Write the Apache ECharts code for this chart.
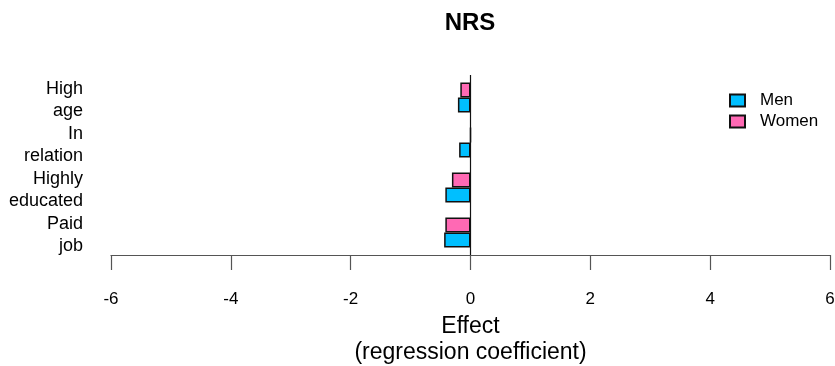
<!DOCTYPE html>
<html>
<head>
<meta charset="utf-8">
<script src="https://cdn.jsdelivr.net/npm/echarts@6/dist/echarts.min.js"></script>
<style>
  html, body { margin: 0; padding: 0; background: #fff; }
  #main { width: 835px; height: 366px; }
</style>
</head>
<body>
<div id="main"></div>
<script>
// categories top to bottom
const categories = ['High\nage', 'In\nrelation', 'Highly\neducated', 'Paid\njob']
const menValues = [-0.21, -0.19, -0.42, -0.44]
const womenValues = [-0.17, 0, -0.31, -0.42]
const xTicks = { min: -6, max: 6, interval: 2 }

const FONT = "'Liberation Sans', Arial, sans-serif"
const myChart = echarts.init(document.getElementById('main'))

const option = {
  backgroundColor: '#fff',
  animation: false,
  textStyle: { fontFamily: FONT, color: '#000' },
  title: {
    text: 'NRS',
    left: 470,
    top: 11,
    padding: 0,
    textAlign: 'center',
    textStyle: { fontFamily: FONT, fontSize: 24, fontWeight: 'bold', color: '#000' },
  },
  legend: {
    data: ['Men', 'Women'],
    orient: 'vertical',
    left: 729,
    top: 92,
    padding: 0,
    icon: 'rect',
    itemWidth: 15,
    itemHeight: 12,
    itemGap: 4,
    textStyle: { fontFamily: FONT, fontSize: 17, color: '#000', lineHeight: 17, padding: [0, 0, 0, 10] },
  },
  grid: {
    left: 111,
    right: 5,
    top: 75,
    bottom: 111,
    containLabel: false,
    outerBoundsMode: 'none',
  },
  xAxis: {
    type: 'value',
    min: xTicks.min,
    max: xTicks.max,
    interval: xTicks.interval,
    name: 'Effect\n(regression coefficient)',
    nameLocation: 'middle',
    nameGap: 59,
    nameTextStyle: { fontFamily: FONT, fontSize: 23, lineHeight: 26, color: '#000' },
    axisLine: { show: true, onZero: false, lineStyle: { color: '#555', width: 1.2 } },
    axisTick: { show: true, length: 15, lineStyle: { color: '#555', width: 1.2 } },
    axisLabel: { margin: 36, fontSize: 17, color: '#000', fontFamily: FONT },
    splitLine: { show: false },
  },
  yAxis: {
    type: 'category',
    data: categories,
    inverse: true,
    axisLine: { show: false },
    axisTick: { show: false },
    axisLabel: {
      interval: 0,
      hideOverlap: false,
      margin: 28,
      color: '#000',
      fontFamily: FONT,
      align: 'right',
      // small spacer line on top pushes the two text lines a bit lower
      formatter: function (v) {
        return '{g| }\n' + v.split('\n').map(function (s) { return '{t|' + s + '}' }).join('\n')
      },
      rich: {
        g: { fontSize: 1, lineHeight: 6 },
        t: { fontSize: 18, lineHeight: 22, fontFamily: FONT, color: '#000' },
      },
    },
  },
  series: [
    {
      name: 'Women',
      type: 'bar',
      data: womenValues,
      barGap: '0%',
      barCategoryGap: '33.3%',
      itemStyle: { color: '#FF69B4', borderColor: '#111', borderWidth: 1.5 },
      markLine: {
        silent: true,
        symbol: 'none',
        label: { show: false },
        lineStyle: { color: '#111', width: 1.2, type: 'solid' },
        data: [{ xAxis: 0 }],
      },
    },
    {
      name: 'Men',
      type: 'bar',
      data: menValues,
      barGap: '0%',
      barCategoryGap: '33.3%',
      itemStyle: { color: '#00BFFF', borderColor: '#111', borderWidth: 1.5 },
    },
  ],
}

option && myChart.setOption(option)
window.addEventListener('resize', function () {
  myChart.resize()
})
</script>
</body>
</html>
